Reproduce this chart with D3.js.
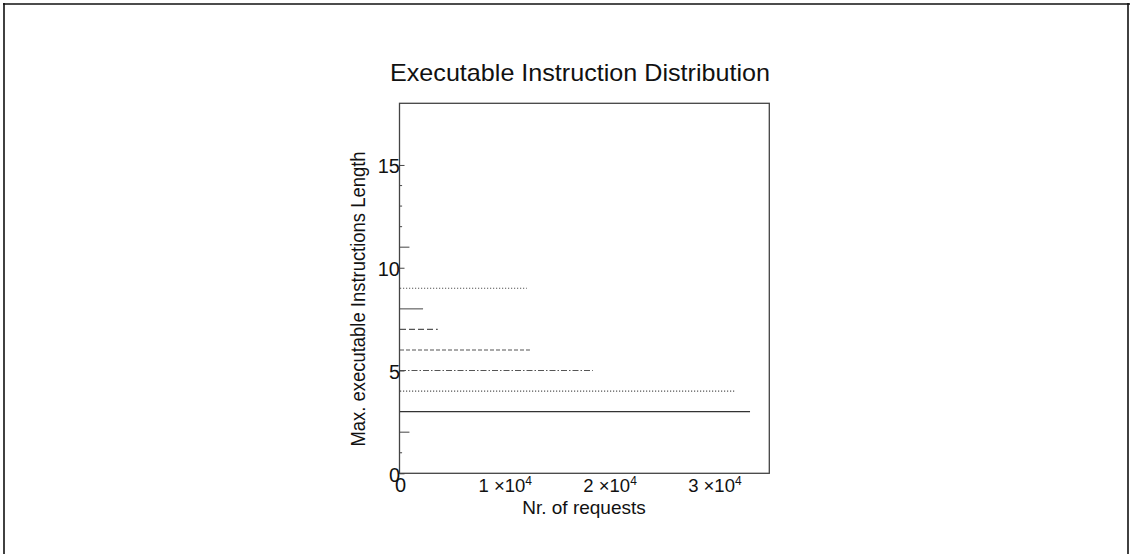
<!DOCTYPE html>
<html>
<head>
<meta charset="utf-8">
<script src="https://cdn.jsdelivr.net/npm/d3@7"></script>
<style>
  html, body { margin: 0; padding: 0; background: #fff; }
  svg { display: block; font-family: "Liberation Sans", Arial, sans-serif; }
</style>
</head>
<body>
<svg id="chart" width="1130" height="554"></svg>
<script>
// ---- data ----
const lengths  = [1, 2, 3, 4, 5, 6, 7, 8, 9, 11, 12, 13, 14];
const requests = [200, 900, 33400, 31950, 18400, 12400, 3600, 2200, 12100, 900, 200, 200, 200];
const xTickValues = [0, 10000, 20000, 30000];
const xTickMant   = ["0", "1", "2", "3"];
const yTickValues = [0, 5, 10, 15];
const titleText = "Executable Instruction Distribution";
const xTitle = "Nr. of requests";
const yTitle = "Max. executable Instructions Length";

// line style per length (presentation only)
const styleFor = {
  1: "", 2: "", 3: "", 4: "1.2,1.8", 5: "6,2,1.5,2", 6: "4,2",
  7: "6,3", 8: "", 9: "1.2,1.8", 11: "", 12: "", 13: "", 14: ""
};

const svg = d3.select("#chart");
const W = 1130, H = 554;

// outer frame
svg.append("line").attr("x1", 3).attr("x2", W).attr("y1", 4).attr("y2", 4)
  .attr("stroke", "#111").attr("stroke-width", 1.6);
svg.append("line").attr("x1", 4).attr("x2", 4).attr("y1", 3).attr("y2", H)
  .attr("stroke", "#111").attr("stroke-width", 1.6);
svg.append("line").attr("x1", 1128).attr("x2", 1128).attr("y1", 3).attr("y2", H)
  .attr("stroke", "#111").attr("stroke-width", 1.6);

const x = d3.scaleLinear().domain([0, 35240]).range([400, 769.3]);
const y = d3.scaleLinear().domain([0, 18]).range([473.3, 103.3]);

// data lines
const data = lengths.map((l, i) => ({ len: l, val: requests[i] }));
svg.append("g").selectAll("line").data(data).enter().append("line")
  .attr("x1", x(0))
  .attr("x2", d => x(d.val))
  .attr("y1", d => y(d.len))
  .attr("y2", d => y(d.len))
  .attr("stroke", d => d.len === 3 ? "#333" : "#555")
  .attr("stroke-width", d => d.len === 3 ? 1.4 : 1.1)
  .attr("stroke-dasharray", d => styleFor[d.len] || null);

// frame
svg.append("rect")
  .attr("x", x(0) - 0.5).attr("y", y(18))
  .attr("width", x(35240) - x(0) + 0.5).attr("height", y(0) - y(18))
  .attr("fill", "none").attr("stroke", "#444").attr("stroke-width", 1.3);

// y axis ticks + labels
const yAxis = d3.axisLeft(y).tickValues(yTickValues).tickSize(-5).tickPadding(0)
  .tickFormat(d3.format("d"));
const gy = svg.append("g").attr("transform", `translate(${x(0) - 0.5},0)`).call(yAxis);
gy.select(".domain").remove();
gy.selectAll(".tick line").attr("stroke", "#444").attr("stroke-width", 1);
gy.selectAll(".tick text")
  .attr("x", 0.5).attr("dy", "0.4em")
  .attr("fill", "#111").style("font-size", "20px")
  .attr("font-family", "Liberation Sans, Arial, sans-serif");

// x axis labels (scientific style)
const xAxis = d3.axisBottom(x).tickValues(xTickValues).tickSize(0).tickFormat("");
const gx = svg.append("g").attr("transform", `translate(0,${y(0)})`).call(xAxis);
gx.select(".domain").remove();
gx.selectAll(".tick").each(function(d, i) {
  const t = d3.select(this).append("text")
    .attr("y", 18.7)
    .attr("fill", "#111")
    .attr("text-anchor", "middle")
    .attr("font-family", "Liberation Sans, Arial, sans-serif");
  if (d === 0) {
    t.style("font-size", "20px").text("0");
  } else {
    t.style("font-size", "18.5px");
    t.append("tspan").text(xTickMant[i] + " \u00d710");
    t.append("tspan").attr("dy", -7).style("font-size", "12px").text("4");
  }
});

// titles
svg.append("text")
  .attr("x", 390).attr("y", 81)
  .attr("textLength", 380).attr("lengthAdjust", "spacingAndGlyphs")
  .style("font-size", "24px").attr("fill", "#111")
  .text(titleText);

svg.append("text")
  .attr("x", 584).attr("y", 514)
  .attr("text-anchor", "middle")
  .style("font-size", "19px").attr("fill", "#111")
  .text(xTitle);

svg.append("text")
  .attr("transform", "translate(365,299) rotate(-90)")
  .attr("text-anchor", "middle")
  .attr("textLength", 295).attr("lengthAdjust", "spacingAndGlyphs")
  .style("font-size", "20px").attr("fill", "#111")
  .text(yTitle);
</script>
</body>
</html>
